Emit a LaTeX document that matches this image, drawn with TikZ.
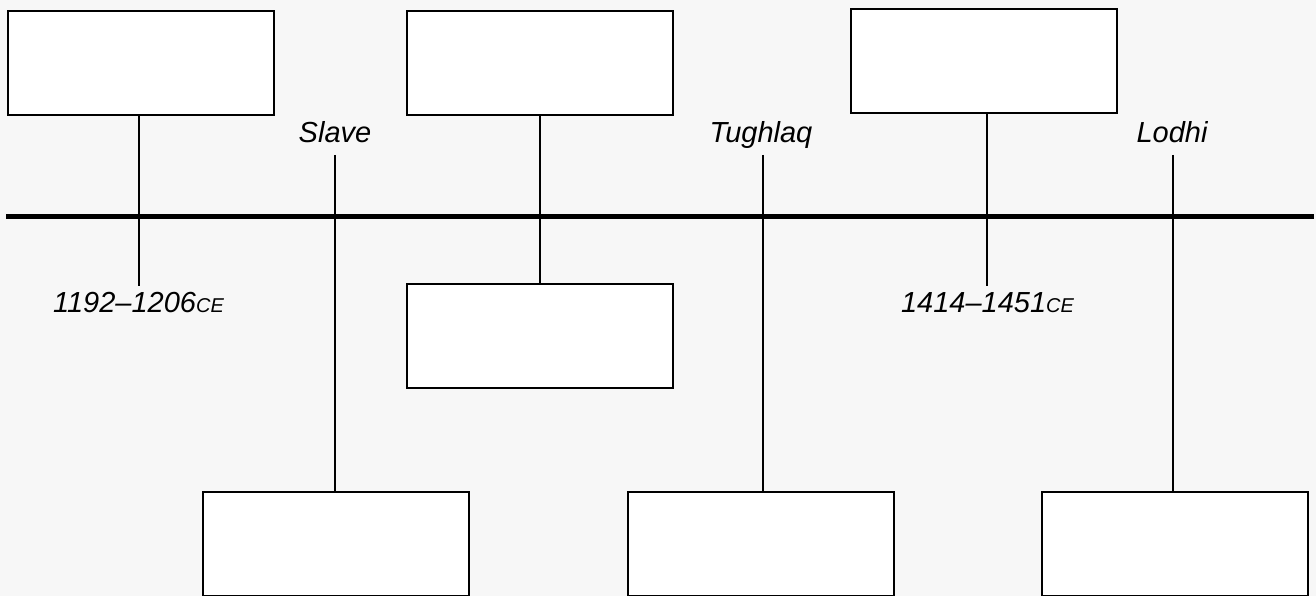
\documentclass[tikz,border=0pt]{standalone}
\usepackage{fontspec}
\setmainfont{Liberation Sans}
\begin{document}
\begin{tikzpicture}[x=1pt,y=-1pt,
  box/.style={draw=black,fill=white,line width=2pt,inner sep=0pt,
    minimum width=266pt,minimum height=104pt},
  link/.style={draw=black,line width=2pt},
  axis/.style={draw=black,line width=5pt},
  era/.style={inner sep=0pt,anchor=base,font=\fontsize{29}{31}\selectfont\itshape}]
  % canvas
  \fill[fill={rgb,255:red,247;green,247;blue,247}] (0,0) rectangle (1316,596);
  \useasboundingbox (0,0) rectangle (1316,596);

  % boxes above the timeline
  \node[box] (b1) at (141,63.5) {};
  \node[box] (b2) at (540,63.5) {};
  \node[box] (b3) at (983.5,61.5) {};
  % box below the timeline
  \node[box] (b4) at (540,336) {};
  % boxes along the bottom edge
  \node[box] (b5) at (336,543.5) {};
  \node[box] (b6) at (761,543.5) {};
  \node[box] (b7) at (1174.5,543.5) {};

  % timeline
  \coordinate (tl) at (6,216.5);
  \coordinate (tr) at (1314,216.5);
  \draw[axis] (tl) -- (tr);

  % date labels under the timeline
  \node[era] (d1) at (138.5,312) {1192–1206{\fontsize{20}{21}\selectfont CE}};
  \node[era] (d2) at (987.5,312) {1414–1451{\fontsize{20}{21}\selectfont CE}};
  \coordinate (d1top) at (139,286);
  \coordinate (d2top) at (987,286);

  % dynasty labels above the timeline
  \node[era] (slave) at (335,143) {Slave};
  \node[era] (tughlaq) at (761,143) {Tughlaq};
  \node[era] (lodhi) at (1172,143) {Lodhi};
  \coordinate (s1) at (335,155);
  \coordinate (s2) at (763,155);
  \coordinate (s3) at (1173,155);

  % connectors
  \draw[link] (b1.south -| d1top) -- (d1top);
  \draw[link] (b2.south) -- (b4.north);
  \draw[link] (b3.south -| d2top) -- (d2top);
  \draw[link] (s1) -- (b5.north -| s1);
  \draw[link] (s2) -- (b6.north -| s2);
  \draw[link] (s3) -- (b7.north -| s3);
\end{tikzpicture}
\end{document}
